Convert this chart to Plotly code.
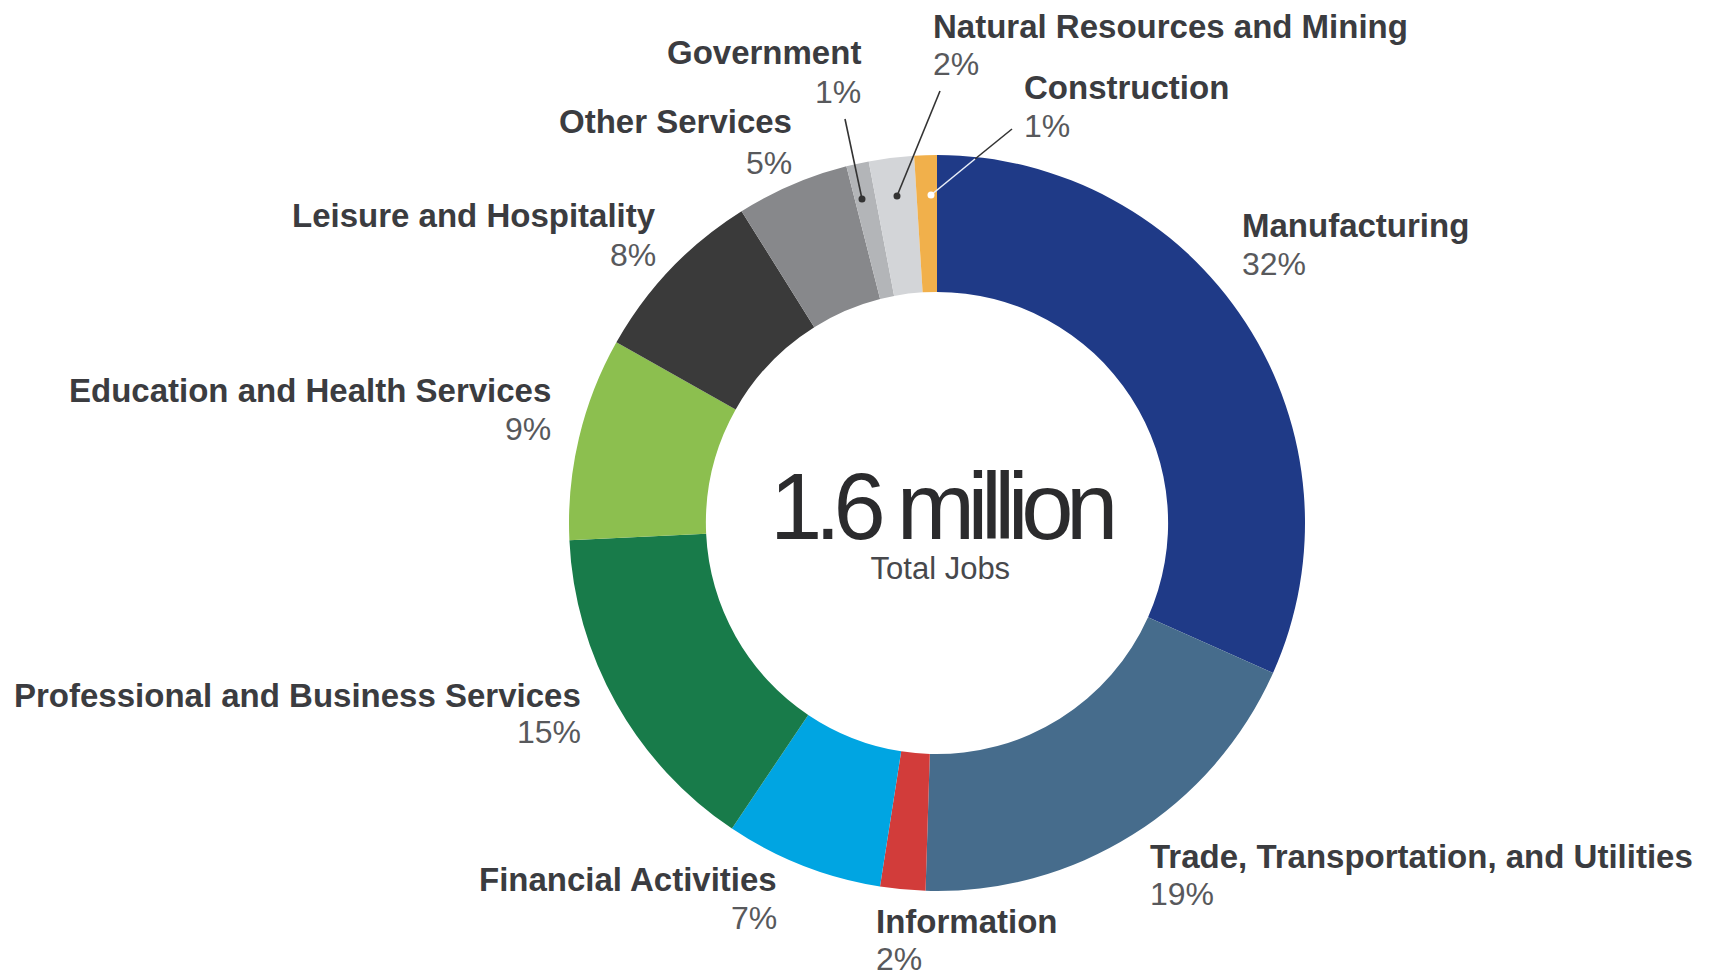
import plotly.graph_objects as go

W, H = 1723, 976
OFF = 8  # page body margin of the html page

sectors = ["Manufacturing", "Trade, Transportation, and Utilities", "Information",
           "Financial Activities", "Professional and Business Services",
           "Education and Health Services", "Leisure and Hospitality",
           "Other Services", "Government", "Natural Resources and Mining", "Construction"]
shares = [32, 19, 2, 7, 15, 9, 8, 5, 1, 2, 1]
pct_labels = ["32%", "19%", "2%", "7%", "15%", "9%", "8%", "5%", "1%", "2%", "1%"]
colors = ["#1f3a87", "#466c8c", "#d23c3a", "#00a5e2", "#187b4a", "#8cbf4f",
          "#3a3a3a", "#87888b", "#b3b5b8", "#d3d5d8", "#f1b04b"]

total_value = "1.6 million"
total_caption = "Total Jobs"

# label layout (screen pixel positions of the text blocks): x, y_name, y_pct, anchor
label_pos = {
    "Manufacturing": (1241, 225, 264, "left"),
    "Trade, Transportation, and Utilities": (1149, 856, 894, "left"),
    "Information": (875, 921, 959, "left"),
    "Financial Activities": (778, 879, 918, "right"),
    "Professional and Business Services": (582, 695, 732, "right"),
    "Education and Health Services": (552, 390, 429, "right"),
    "Leisure and Hospitality": (657, 215, 255, "right"),
    "Other Services": (793, 122, 163, "right"),
    "Government": (862, 53, 92, "right"),
    "Natural Resources and Mining": (932, 27, 64, "left"),
    "Construction": (1023, 87, 126, "left"),
}

cx, cy, R = 937 - OFF, 523 - OFF, 368

fig = go.Figure(go.Pie(
    labels=sectors, values=shares, sort=False, direction="clockwise", rotation=0,
    hole=0.628, marker=dict(colors=colors, line=dict(width=0)),
    textinfo="none", hoverinfo="label+percent", showlegend=False,
    domain=dict(x=[(cx - R) / W, (cx + R) / W], y=[1 - (cy + R) / H, 1 - (cy - R) / H]),
))

def px(x):
    return (x - OFF) / W

def py(y):
    return 1 - (y - OFF) / H

ann = []
for name, pct in zip(sectors, pct_labels):
    x, yn, yp, anc = label_pos[name]
    ann.append(dict(x=px(x), y=py(yn), xref="paper", yref="paper", text="<b>" + name + "</b>",
                    showarrow=False, xanchor=anc, yanchor="middle", borderpad=0,
                    font=dict(family="Liberation Sans, Arial", size=33, color="#3b3c40")))
    ann.append(dict(x=px(x), y=py(yp), xref="paper", yref="paper", text=pct,
                    showarrow=False, xanchor=anc, yanchor="middle", borderpad=0,
                    font=dict(family="Liberation Sans, Arial", size=32, color="#58595c")))

# centre text: big number and caption in one block
ann.append(dict(x=px(941), y=py(587), xref="paper", yref="paper",
                text="<span style='font-size:94px;letter-spacing:-7.5px;color:#2b2b2d'>"
                     + total_value + "</span><br>" + total_caption,
                showarrow=False, xanchor="center", yanchor="bottom", align="center", borderpad=0,
                font=dict(family="Liberation Sans, Arial", size=31, color="#47484c")))

shapes = []
def line(x0, y0, x1, y1, color, w=1.6):
    shapes.append(dict(type="line", xref="paper", yref="paper", x0=px(x0), y0=py(y0),
                       x1=px(x1), y1=py(y1), line=dict(color=color, width=w)))

def dot(x, y, color, r=3.5):
    shapes.append(dict(type="circle", xref="paper", yref="paper", x0=px(x - r), x1=px(x + r),
                       y0=py(y + r), y1=py(y - r), fillcolor=color, line=dict(width=0)))

# leader lines
line(845, 119, 862, 199, "#333333")
dot(862, 199, "#333333")
line(940, 91, 897, 196, "#333333")
dot(897, 196, "#333333")
line(1012, 129, 975, 159, "#333333")
line(975, 159, 931, 195, "#e8eef8")
dot(931, 195, "#ffffff")

fig.update_layout(width=W, height=H, margin=dict(l=0, r=0, t=0, b=0),
                  paper_bgcolor="white", plot_bgcolor="white",
                  annotations=ann, shapes=shapes)

fig.write_html("out.html")
